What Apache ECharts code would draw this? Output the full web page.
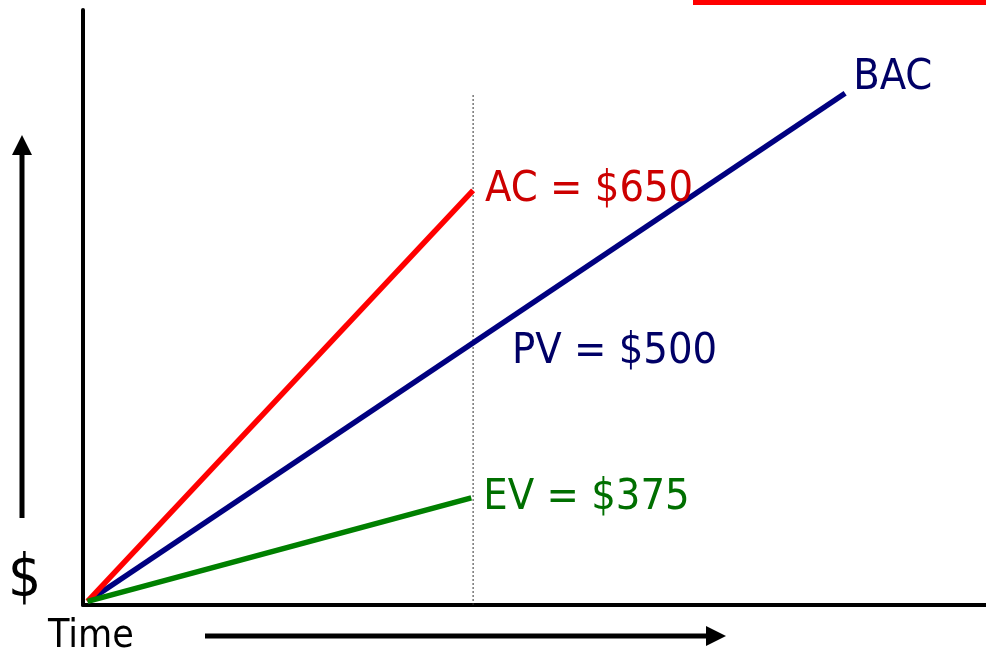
<!DOCTYPE html>
<html lang="en">
<head>
    <meta charset="UTF-8">
    <title>Earned Value</title>
    <script src="https://cdn.jsdelivr.net/npm/echarts@6/dist/echarts.min.js"></script>
    <style>
        html, body { margin: 0; padding: 0; background: #fff; }
        #chart { width: 986px; height: 653px; }
    </style>
</head>
<body>
    <div id="chart"></div>
    <script>
        // time / $ in plot units (axis 0..100)
        const origin = [0.5, 0.6];
        const statusTime = 43.2;
        const acPoint = [43.2, 69.7];
        const evPoint = [43.0, 18.0];
        const bacPoint = [84.4, 86.0];
        const pvLabelPoint = [47.5, 42.5];

        const labels = { ac: 'AC = $650', pv: 'PV = $500', ev: 'EV = $375', bac: 'BAC' };

        const FONT = '"DejaVu Sans Condensed", "DejaVu Sans", sans-serif';
        const chart = echarts.init(document.getElementById('chart'));

        const lineSeries = (name, end, color, textColor, text, offset) => ({
            name: name,
            type: 'line',
            data: [origin, end],
            symbol: 'none',
            lineStyle: { color: color, width: 5.5 },
            z: 5,
            endLabel: {
                show: true,
                formatter: text,
                color: textColor,
                fontFamily: FONT,
                fontSize: 43,
                distance: 12,
                offset: offset || [0, 0]
            }
        });

        chart.setOption({
            animation: false,
            grid: { left: 83, right: 0, top: 10, bottom: 48 },
            xAxis: {
                type: 'value', min: 0, max: 100,
                axisLine: { lineStyle: { color: '#000', width: 4 } },
                axisTick: { show: false }, axisLabel: { show: false }, splitLine: { show: false }
            },
            yAxis: {
                type: 'value', min: 0, max: 100,
                axisLine: { show: true, lineStyle: { color: '#000', width: 4 } },
                axisTick: { show: false }, axisLabel: { show: false }, splitLine: { show: false }
            },
            series: [
                {
                    name: 'status',
                    type: 'line',
                    data: [[statusTime, 0], [statusTime, bacPoint[1]]],
                    symbol: 'none',
                    lineStyle: { color: '#333', width: 1, type: [2, 2] },
                    z: 1
                },
                lineSeries('PV', bacPoint, '#000080', '#000066', labels.bac, [-4, -15]),
                lineSeries('AC', acPoint, '#ff0000', '#cc0000', labels.ac),
                lineSeries('EV', evPoint, '#008000', '#006f00', labels.ev),
                {
                    name: 'PV label',
                    type: 'scatter',
                    data: [pvLabelPoint],
                    symbolSize: 0,
                    itemStyle: { opacity: 1 },
                    label: {
                        show: true, position: 'right', distance: 0,
                        formatter: labels.pv, color: '#000066',
                        fontFamily: FONT, fontSize: 43
                    }
                }
            ],
            graphic: [
                { type: 'rect', shape: { x: 693, y: 0, width: 293, height: 5 }, style: { fill: '#ff0000' } },
                { type: 'line', shape: { x1: 22, y1: 518, x2: 22, y2: 150 }, style: { stroke: '#000', lineWidth: 5 } },
                { type: 'polygon', shape: { points: [[12, 155], [32, 155], [22, 135]] }, style: { fill: '#000' } },
                { type: 'line', shape: { x1: 205, y1: 636, x2: 710, y2: 636 }, style: { stroke: '#000', lineWidth: 5 } },
                { type: 'polygon', shape: { points: [[706, 626], [706, 646], [726, 636]] }, style: { fill: '#000' } },
                { type: 'text', left: 8, top: 552, style: { text: '$', font: '58px ' + FONT, fill: '#000' } },
                { type: 'text', left: 48, top: 617, style: { text: 'Time', font: '39px ' + FONT, fill: '#000' } }
            ]
        });
    </script>
</body>
</html>
